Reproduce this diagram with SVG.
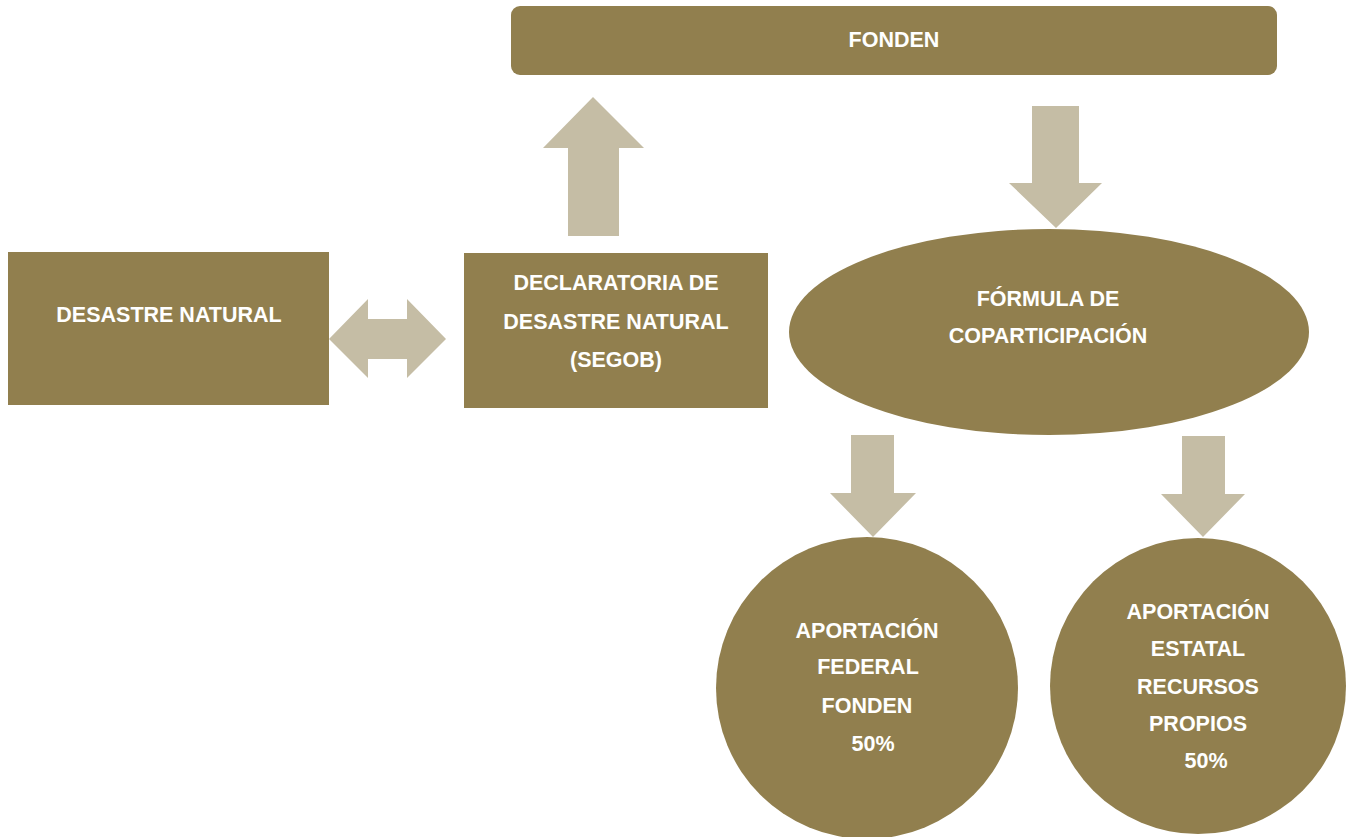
<svg xmlns="http://www.w3.org/2000/svg" width="1348" height="837" viewBox="0 0 1348 837">
<style>
.n{fill:#917F4E}
.a{fill:#C5BDA5}
.t{font-family:"Liberation Sans",Arial,sans-serif;font-weight:bold;font-size:21.5px;fill:#FFFFFF;text-anchor:middle}
</style>
<rect width="1348" height="837" fill="#FFFFFF"/>
<g id="connectors">
<polygon class="a" points="329,339 368,299 368,319 407,319 407,299 446,339 407,378 407,359 368,359 368,378"/>
<polygon class="a" points="593,97 644,148 619,148 619,236 568,236 568,148 543,148"/>
<polygon class="a" points="1032,106 1079,106 1079,183 1102,183 1056,228 1009,183 1032,183"/>
<polygon class="a" points="851,435 894,435 894,493 916,493 873,537 830,493 851,493"/>
<polygon class="a" points="1182,436 1225,436 1225,494 1245,494 1203,537 1161,494 1182,494"/>
</g>
<g id="fonden">
<rect class="n" x="511" y="6" width="766" height="69" rx="9"/>
<text class="t" x="894" y="47">FONDEN</text>
</g>
<g id="desastre">
<rect class="n" x="8" y="252" width="321" height="153"/>
<text class="t" x="169" y="322">DESASTRE NATURAL</text>
</g>
<g id="declaratoria">
<rect class="n" x="464" y="253" width="304" height="155"/>
<text class="t" x="616" y="290">DECLARATORIA DE</text>
<text class="t" x="616" y="329">DESASTRE NATURAL</text>
<text class="t" x="616" y="367">(SEGOB)</text>
</g>
<g id="formula">
<ellipse class="n" cx="1049" cy="332" rx="260" ry="103"/>
<text class="t" x="1048" y="306">FÓRMULA DE</text>
<text class="t" x="1048" y="343">COPARTICIPACIÓN</text>
</g>
<g id="federal">
<circle class="n" cx="867" cy="688" r="151"/>
<text class="t" x="867" y="638">APORTACIÓN</text>
<text class="t" x="868" y="674">FEDERAL</text>
<text class="t" x="867" y="713">FONDEN</text>
<text class="t" x="873" y="751">50%</text>
</g>
<g id="estatal">
<circle class="n" cx="1198" cy="686" r="148"/>
<text class="t" x="1198" y="619">APORTACIÓN</text>
<text class="t" x="1198" y="656">ESTATAL</text>
<text class="t" x="1198" y="694">RECURSOS</text>
<text class="t" x="1198" y="731">PROPIOS</text>
<text class="t" x="1206" y="768">50%</text>
</g>
</svg>
